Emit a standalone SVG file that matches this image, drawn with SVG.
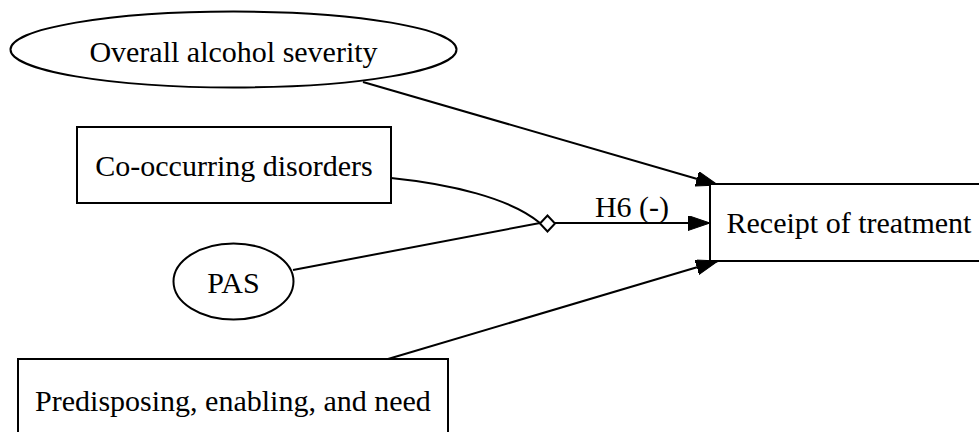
<svg xmlns="http://www.w3.org/2000/svg" width="979" height="432" viewBox="0 0 979 432">
<style>
.n{fill:#fff;stroke:#000;stroke-width:2}
.t{font-family:"Liberation Serif","Times New Roman",serif;font-size:30px;fill:#000;text-anchor:middle}
.e{fill:none;stroke:#000;stroke-width:2}
</style>
<defs>
<marker id="ah" markerUnits="userSpaceOnUse" markerWidth="24" markerHeight="16" refX="22" refY="7.5" orient="auto" viewBox="0 0 24 16">
<polygon points="0,0 22,7.5 0,15" fill="#000" stroke="#000" stroke-width="1"/>
</marker>
</defs>
<rect width="979" height="432" fill="#fff"/>
<g id="edges">
<line class="e" x1="363" y1="82" x2="718" y2="185" marker-end="url(#ah)"/>
<path class="e" d="M391,178 C450,184 510,198 540,223"/>
<line class="e" x1="293" y1="270" x2="540" y2="223"/>
<line class="e" x1="555" y1="223" x2="710" y2="223" marker-end="url(#ah)"/>
<polygon points="540,223.5 547.5,215.5 555,223.5 547.5,231.5" fill="#fff" stroke="#000" stroke-width="2"/>
<text class="t" x="632" y="217">H6 (-)</text>
<line class="e" x1="388" y1="359" x2="718" y2="261" marker-end="url(#ah)"/>
</g>
<g id="overall">
<ellipse class="n" cx="233.5" cy="49.5" rx="223" ry="38"/>
<text class="t" x="233.5" y="62">Overall alcohol severity</text>
</g>
<g id="cooccurring">
<rect class="n" x="77" y="127" width="314" height="76"/>
<text class="t" x="234" y="176">Co-occurring disorders</text>
</g>
<g id="pas">
<ellipse class="n" cx="233.5" cy="281.5" rx="60" ry="38"/>
<text class="t" x="233.5" y="293">PAS</text>
</g>
<g id="predisposing">
<rect class="n" x="18" y="359" width="430" height="86"/>
<text class="t" x="233" y="411">Predisposing, enabling, and need</text>
</g>
<g id="receipt">
<rect class="n" x="710" y="184" width="278" height="77"/>
<text class="t" x="849" y="233">Receipt of treatment</text>
</g>
</svg>
